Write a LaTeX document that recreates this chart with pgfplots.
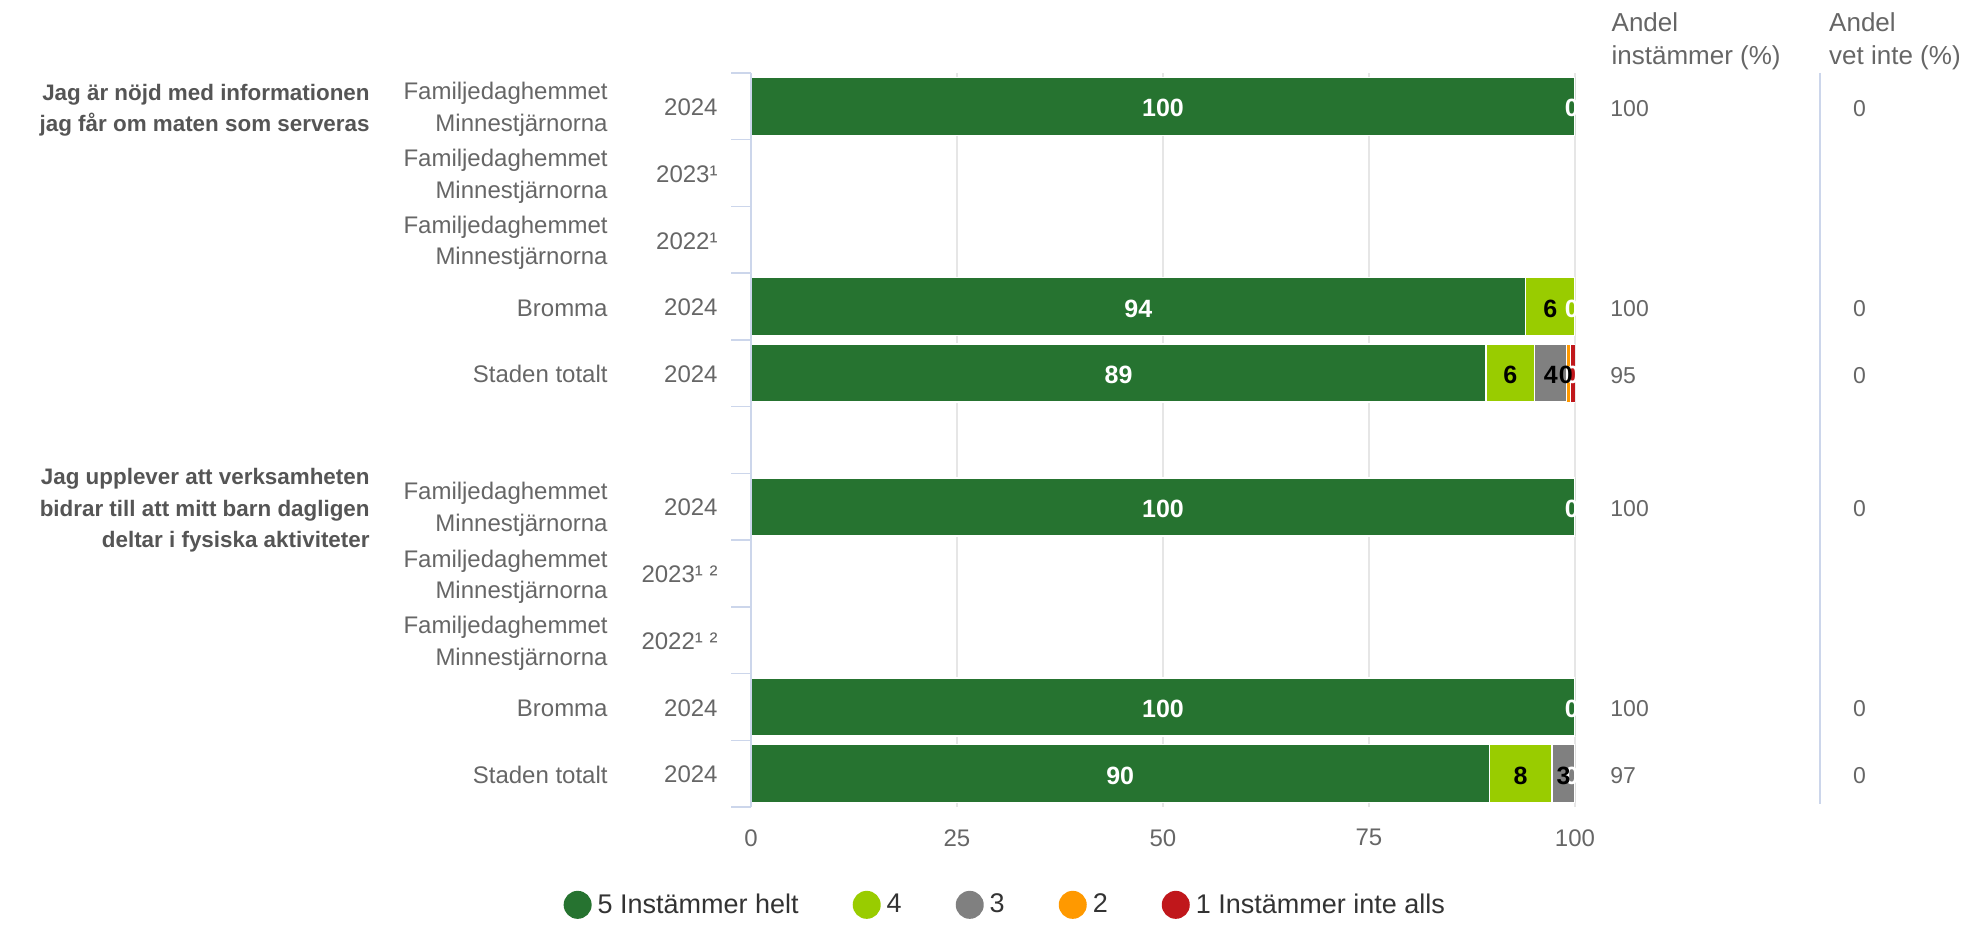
\documentclass[border=0pt]{standalone}
\usepackage{pgfplots}
\pgfplotsset{compat=1.18}
\usepackage{pgfplotstable}
\usepackage{fontspec}
\setmainfont{Liberation Sans}
\definecolor{c5}{HTML}{267330}
\definecolor{c4}{HTML}{99CC00}
\definecolor{c3}{HTML}{808080}
\definecolor{c2}{HTML}{FF9900}
\definecolor{c1}{HTML}{C0171B}
\definecolor{axc}{HTML}{CCD6EB}
\definecolor{gridc}{HTML}{E6E6E6}
\definecolor{labc}{HTML}{666666}
\definecolor{qc}{HTML}{555555}
\definecolor{legc}{HTML}{333333}
\newcommand\fs[2]{\fontsize{#1}{#2}\selectfont}
\newcommand\yl[2]{\makebox[119pt][r]{\begin{tabular}[c]{@{}r@{}}#1\end{tabular}}\makebox[55pt][r]{#2}}
\newcommand\yq[3]{\makebox[184.5pt][r]{\color{qc}\fs{11.2}{15.7}\bfseries\begin{tabular}[c]{@{}r@{}}#1\end{tabular}}\yl{#2}{#3}}
\pgfplotsset{circlegend/.style={legend image code/.code={\fill[##1,draw=none] (7pt,0pt) circle (7pt);}}}

\pgfplotstableread{
row s5 s4 s3 s2 s1
0 100 0 0 0 0
3 94 6 0 0 0
4 89.2 5.9 3.85 0.45 0.6
6 100 0 0 0 0
9 100 0 0 0 0
10 89.6 7.6 2.8 0 0
}\bars

\pgfplotstableread{
x y lab
50 0 100
99.6 0 0
47 3 94
99.6 3 0
44.6 4 89
99.7 4 0
50 6 100
99.6 6 0
50 9 100
99.6 9 0
44.8 10 90
99.6 10 0
}\wlab

\pgfplotstableread{
x y lab
97 3 6
92.15 4 6
97.05 4 4
98.9 4 0
93.4 10 8
98.6 10 3
}\blab

\pgfplotstableread{
x y lab
104.25 0 100
104.25 3 100
104.25 4 95
104.25 6 100
104.25 9 100
104.25 10 97
133.7 0 0
133.7 3 0
133.7 4 0
133.7 6 0
133.7 9 0
133.7 10 0
}\cols

\begin{document}
\begin{tikzpicture}
\useasboundingbox (0,0) rectangle (986pt,462.5pt);
\begin{axis}[
  at={(375.5pt,59pt)}, anchor=south west,
  scale only axis, width=412pt, height=367pt,
  xmin=0, xmax=100, ymin=-0.5, ymax=10.5, y dir=reverse,
  xbar stacked, bar width=29pt,
  axis line style={draw=none},
  tick style={draw=none},
  xtick={0,25,50,75,100},
  xmajorgrids, major grid style={draw=gridc, line width=0.6pt},
  ytick={0,...,10},
  yticklabels={
    {\yq{Jag är nöjd med informationen\\jag får om maten som serveras}{Familjedaghemmet\\Minnestjärnorna}{2024}},
    {\yl{Familjedaghemmet\\Minnestjärnorna}{2023¹}},
    {\yl{Familjedaghemmet\\Minnestjärnorna}{2022¹}},
    {\yl{Bromma}{2024}},
    {\yl{Staden totalt}{2024}},
    {},
    {\yq{Jag upplever att verksamheten\\bidrar till att mitt barn dagligen\\deltar i fysiska aktiviteter}{Familjedaghemmet\\Minnestjärnorna}{2024}},
    {\yl{Familjedaghemmet\\Minnestjärnorna}{2023¹ ²}},
    {\yl{Familjedaghemmet\\Minnestjärnorna}{2022¹ ²}},
    {\yl{Bromma}{2024}},
    {\yl{Staden totalt}{2024}}
  },
  yticklabel style={anchor=east, inner sep=0pt, xshift=-16.5pt, yshift=-1.6pt, font=\fs{12}{15.7}, text=labc},
  xticklabel style={anchor=north, inner sep=0pt, yshift=-11pt, font=\fs{12}{14}, text=labc},
  /pgf/number format/assume math mode=true,
  legend style={at={(0.311,-0.1333)}, anchor=center, draw=none, fill=none,
    legend columns=5, font=\fs{13.5}{15}, text=legc,
    /tikz/every even column/.append style={column sep=24pt},
    cells={anchor=west}, nodes={inner xsep=3pt}},
]
\addplot[fill=c5, draw=white, line width=0.8pt, circlegend] table[x=s5,y=row] {\bars};
\addlegendentry{5 Instämmer helt}
\addplot[fill=c4, draw=white, line width=0.8pt, circlegend] table[x=s4,y=row] {\bars};
\addlegendentry{4}
\addplot[fill=c3, draw=white, line width=0.8pt, circlegend] table[x=s3,y=row] {\bars};
\addlegendentry{3}
\addplot[fill=c2, draw=white, line width=0.5pt, circlegend] table[x=s2,y=row] {\bars};
\addlegendentry{2}
\addplot[fill=c1, draw=white, line width=0.5pt, circlegend] table[x=s1,y=row] {\bars};
\addlegendentry{1 Instämmer inte alls}
\end{axis}

\begin{axis}[
  at={(375.5pt,59pt)}, anchor=south west,
  scale only axis, width=412pt, height=367pt,
  xmin=0, xmax=100, ymin=-0.5, ymax=10.5, y dir=reverse,
  axis line style={draw=none},
  xtick=\empty,
  ytick={-0.5,0.5,...,10.5}, yticklabels={},
  ytick pos=left, tick align=outside, major tick length=10pt,
  ytick style={draw=axc, line width=0.75pt},
  clip=false,
]
\addplot[draw=axc, line width=0.75pt, mark=none] coordinates {(0,-0.5) (0,10.5)};
\addplot[draw=axc, line width=0.75pt, mark=none] coordinates {(129.73,-0.5) (129.73,10.45)};
\addplot[draw=none, mark=none, nodes near coords, point meta=explicit symbolic,
  nodes near coords style={anchor=center, inner sep=0pt, yshift=-1pt, font=\fs{12.5}{14}\bfseries, text=white}]
  table[x=x,y=y,meta=lab] {\wlab};
\addplot[draw=none, mark=none, nodes near coords, point meta=explicit symbolic,
  nodes near coords style={anchor=center, inner sep=0pt, yshift=-1pt, font=\fs{12.5}{14}\bfseries, text=black}]
  table[x=x,y=y,meta=lab] {\blab};
\addplot[draw=none, mark=none, nodes near coords, point meta=explicit symbolic,
  nodes near coords style={anchor=west, inner sep=0pt, yshift=-1pt, font=\fs{11.5}{13}, text=labc}]
  table[x=x,y=y,meta=lab] {\cols};
\node[anchor=west, align=left, inner sep=0pt, font=\fs{13}{16.5}, text=labc] at (axis cs:104.4,-0.98) {Andel\\instämmer (\%)};
\node[anchor=west, align=left, inner sep=0pt, font=\fs{13}{16.5}, text=labc] at (axis cs:130.8,-0.98) {Andel\\vet inte (\%)};
\end{axis}
\end{tikzpicture}
\end{document}
